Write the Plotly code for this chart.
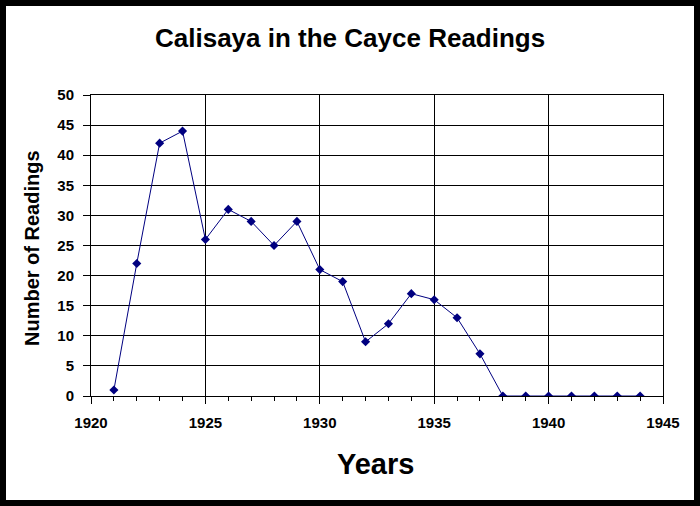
import plotly.graph_objects as go

years = list(range(1921, 1945))
readings = [1, 22, 42, 44, 26, 31, 29, 25, 29, 21, 19, 9, 12, 17, 16, 13, 7,
            0, 0, 0, 0, 0, 0, 0]

title_text = "Calisaya in the Cayce Readings"
x_title = "Years"
y_title = "Number of Readings"

FONT = "Liberation Sans, Arial, sans-serif"
W, H = 700, 506
L, R, T, B = 91, 663, 95, 396
pw, ph = R - L, B - T

def px_x(p):
    return (p - L) / pw

def px_y(p):
    return (B - p) / ph

fig = go.Figure()
fig.add_trace(go.Scatter(
    x=years, y=readings, mode="lines+markers",
    line=dict(color="#000080", width=1),
    marker=dict(symbol="diamond", size=7, color="#000080"),
    showlegend=False,
))

fig.update_layout(
    width=W, height=H,
    margin=dict(l=L, r=W - R, t=T, b=H - B),
    paper_bgcolor="black",
    plot_bgcolor="white",
    font=dict(family=FONT, color="black"),
    shapes=[dict(type="rect", xref="paper", yref="paper",
                 x0=px_x(6), x1=px_x(694), y0=px_y(500), y1=px_y(6),
                 fillcolor="white", line=dict(width=0), layer="below")],
    annotations=[
        dict(text="<b>%s</b>" % title_text, xref="paper", yref="paper",
             x=px_x(350), y=px_y(38), xanchor="center", yanchor="middle",
             showarrow=False, font=dict(size=26, family=FONT, color="black")),
        dict(text="<b>%s</b>" % x_title, xref="paper", yref="paper",
             x=px_x(375), y=px_y(464), xanchor="center", yanchor="middle",
             showarrow=False, font=dict(size=29, family=FONT, color="black")),
        dict(text="<b>%s</b>" % y_title, xref="paper", yref="paper",
             x=px_x(32), y=px_y(248), xanchor="center", yanchor="middle",
             textangle=-90, showarrow=False,
             font=dict(size=20, family=FONT, color="black")),
    ],
)

fig.update_xaxes(
    range=[1920, 1945], dtick=5, tick0=1920,
    showline=True, linecolor="black", linewidth=1, mirror=True,
    showgrid=True, gridcolor="black", gridwidth=1,
    zeroline=False,
    ticks="outside", ticklen=7, tickcolor="black", tickwidth=1,
    ticklabelstandoff=6,
    tickfont=dict(size=15, family=FONT, color="black", weight="bold"),
    minor=dict(dtick=1, tick0=1920, ticks="outside", ticklen=4,
               tickcolor="black", showgrid=False),
)
fig.update_yaxes(
    range=[0, 50], dtick=5, tick0=0,
    showline=True, linecolor="black", linewidth=1, mirror=True,
    showgrid=True, gridcolor="black", gridwidth=1,
    zeroline=False,
    ticks="outside", ticklen=7, tickcolor="black", tickwidth=1,
    ticklabelstandoff=6,
    tickfont=dict(size=15, family=FONT, color="black", weight="bold"),
)

fig.write_html("out.html", config={"displayModeBar": False},
               post_script="document.body.style.margin='0';")
